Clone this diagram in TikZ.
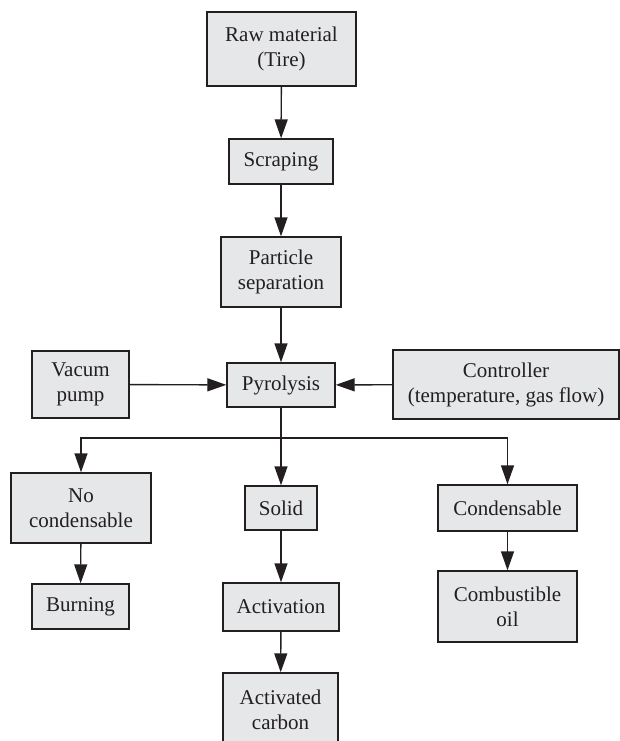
\documentclass[tikz,border=0pt]{standalone}
\usepackage{fontspec}
\setmainfont{Liberation Serif}
\usepackage{tikz}
\usetikzlibrary{arrows.meta}
\definecolor{boxfill}{HTML}{E6E7E8}
\definecolor{ink}{HTML}{231F20}
\tikzset{every node/.style={font=\fontsize{21}{25}\selectfont, text=ink},
    box/.style={draw=ink, fill=boxfill, line width=1.4pt, align=center,
        inner sep=0pt},
    flow/.style={draw=ink, line width=1.4pt,
        -{Triangle[length=19pt,width=13pt]}},
    link/.style={draw=ink, line width=1.4pt}}

\begin{document}
\begin{tikzpicture}[x=1pt,y=-1pt]
    \useasboundingbox (0,0) rectangle (620,741);
    % main column
    \node[box, minimum width=149pt, minimum height=74pt] (raw) at (281.5,49) {Raw material\\(Tire)};
    \node[box, minimum width=104pt, minimum height=45pt] (scrap) at (281,161.5) {Scraping};
    \node[box, minimum width=120pt, minimum height=70pt] (part) at (281,272) {Particle\\separation};
    \node[box, minimum width=108pt, minimum height=44pt] (pyro) at (281,385) {Pyrolysis};
    \node[box, minimum width=97pt, minimum height=67pt] (vac) at (80.5,384.5) {Vacum\\pump};
    \node[box, minimum width=226pt, minimum height=69pt] (ctrl) at (506,384.5) {Controller\\(temperature, gas flow)};
    % products
    \node[box, minimum width=140pt, minimum height=70pt] (nocond) at (81,508) {No\\condensable};
    \node[box, minimum width=72pt, minimum height=44pt] (solid) at (281,508) {Solid};
    \node[box, minimum width=139pt, minimum height=46pt] (cond) at (507.5,508) {Condensable};
    \node[box, minimum width=97pt, minimum height=45pt] (burn) at (80.5,606.5) {Burning};
    \node[box, minimum width=116pt, minimum height=48pt] (activ) at (281,607) {Activation};
    \node[box, minimum width=139pt, minimum height=71pt] (oil) at (507.5,606.5) {Combustible\\oil};
    \node[box, minimum width=115pt, minimum height=74pt] (carbon) at (280.5,710) {Activated\\carbon};
    \coordinate (split) at (281,438);

    \draw[flow] (raw) -- (scrap);
    \draw[flow] (scrap) -- (part);
    \draw[flow] (part) -- (pyro);
    \draw[flow] (vac) -- (pyro);
    \draw[flow] (ctrl) -- (pyro);
    \draw[flow] (pyro) -- (solid);
    \draw[flow] (split) -| (nocond);
    \draw[flow] (split) -| (cond);
    \draw[flow] (nocond) -- (burn);
    \draw[flow] (solid) -- (activ);
    \draw[flow] (activ) -- (carbon);
    \draw[flow] (cond) -- (oil);
\end{tikzpicture}
\end{document}
